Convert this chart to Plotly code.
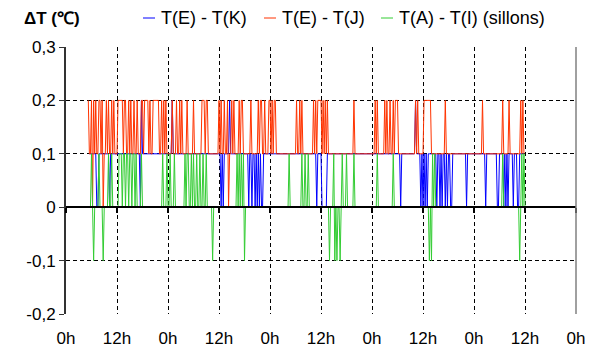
import numpy as np
import plotly.graph_objects as go

# ---------------- data (hours from first midnight) ----------------
x_tick_vals = list(range(0, 121, 12))
x_tick_text = ["0h", "12h", "0h", "12h", "0h", "12h", "0h", "12h", "0h", "12h", "0h"]
y_tick_vals = [-0.2, -0.1, 0.0, 0.1, 0.2, 0.3]
y_tick_text = ["-0,2", "-0,1", "0", "0,1", "0,2", "0,3"]

step_h = 0.25  # 15-min sampling

# T(E) - T(K)  (blue): baseline 0.1
blue_name = "T(E) - T(K)"
blue_span = [5.5, 107.75]
blue_base = 0.1
blue_low = [7.25, 7.5, 10.25, 17.5, 36.5, 37.0, 43.0, 43.75, 44.5, 45.0, 45.5, 46.0, 46.25,
            59.0, 60.25, 60.5, 60.75, 61.0, 61.25, 78.75, 83.5, 84.0, 84.5, 85.0, 87.25, 88.0,
            88.5, 89.25, 89.75, 90.5, 90.75, 94.25, 98.75, 101.5, 101.75, 103.0, 103.5, 104.0,
            105.25, 106.25, 106.5]
blue_high = [17.75, 25.0, 38.5, 82.25]

# T(E) - T(J)  (red): baseline 0.1
red_name = "T(E) - T(J)"
red_span = [5.25, 107.75]
red_base = 0.1
red_high = [5.25, 6.0, 6.5, 7.0, 7.75, 8.0, 8.5, 9.5, 10.0, 10.75, 11.25, 12.25, 12.5, 12.75,
            13.0, 13.25, 13.75, 14.0, 14.75, 15.25, 16.0, 16.75, 17.75, 18.0, 18.5, 18.75, 19.0,
            19.25, 19.75, 20.5, 20.75, 21.0, 21.25, 21.5, 21.75, 22.5, 23.0, 23.5, 25.0, 26.0,
            26.75, 27.25, 28.5, 30.0, 32.0, 32.25, 32.5, 33.0, 33.25, 36.0, 36.5, 37.25, 38.0,
            39.0, 39.5, 40.75, 41.25, 41.5, 43.5, 45.25, 45.75, 46.0, 46.75, 47.75, 48.0, 48.5,
            49.0, 49.25, 54.25, 55.0, 55.5, 58.25, 58.75, 59.25, 59.5, 59.75, 60.0, 60.5, 61.0,
            61.5, 67.75, 72.75, 73.25, 75.0, 75.5, 76.25, 77.0, 77.5, 77.75, 78.0, 82.25, 82.75,
            84.25, 84.5, 84.75, 85.0, 85.25, 85.5, 85.75, 89.25, 98.0, 102.75, 104.25, 107.0,
            107.5]
red_low = [6.25, 8.75, 38.25]

# T(A) - T(I) (sillons)  (green): baseline 0
green_name = "T(A) - T(I) (sillons)"
green_span = [5.25, 108.0]
green_base = 0.0
green_high = [6.0, 7.75, 10.0, 10.75, 12.5, 12.75, 13.0, 13.5, 13.75, 14.25, 14.5, 15.0, 15.25,
              15.75, 16.0, 16.5, 17.75, 22.75, 23.75, 24.5, 25.5, 28.0, 28.5, 28.75, 29.5, 30.0,
              30.75, 31.5, 32.25, 33.0, 40.25, 40.75, 41.25, 41.75, 52.5, 55.5, 56.25, 57.0,
              63.0, 65.0, 66.0, 67.75, 73.25, 77.0, 86.25, 86.75, 102.75, 107.25, 107.75]
green_low = [6.5, 8.75, 34.5, 42.0, 62.0, 63.25, 63.75, 64.5, 85.5, 86.0, 106.75]

# ---------------- styles ----------------
BLUE = "#0000FF"
RED = "#FF3300"
GREEN = "#33CC33"
FONT = "Arial, Liberation Sans, sans-serif"
FS = 17
FS_LEG = 18


def build(span, base, high, low, hi_val, lo_val):
    t = np.arange(span[0], span[1] + 1e-9, step_h)
    v = np.full(t.shape, base, dtype=float)
    idx = {round(tt / step_h): i for i, tt in enumerate(t)}
    for h in high:
        i = idx.get(round(h / step_h))
        if i is not None:
            v[i] = hi_val
    for h in low:
        i = idx.get(round(h / step_h))
        if i is not None:
            v[i] = lo_val
    return t, v


bt, bv = build(blue_span, blue_base, blue_high, blue_low, 0.2, 0.0)
rt, rv = build(red_span, red_base, red_high, red_low, 0.2, 0.0)
gt, gv = build(green_span, green_base, green_high, green_low, 0.1, -0.1)

fig = go.Figure()
fig.add_trace(go.Scatter(x=bt, y=bv, mode="lines", name=blue_name,
                         line=dict(color=BLUE, width=1), showlegend=False, hoverinfo="skip"))
fig.add_trace(go.Scatter(x=rt, y=rv, mode="lines", name=red_name,
                         line=dict(color=RED, width=1), showlegend=False, hoverinfo="skip"))
fig.add_trace(go.Scatter(x=gt, y=gv, mode="lines", name=green_name,
                         line=dict(color=GREEN, width=1), showlegend=False, hoverinfo="skip"))
# carrier for the zero axis (ticks on the 0 line)
fig.add_trace(go.Scatter(x=[None], y=[None], xaxis="x2", showlegend=False, hoverinfo="skip"))

OFF = 8  # page body margin of the browser
L, R, T, B = 66 - OFF, 19, 47 - OFF, 38
W, H = 595 - OFF, 352 - OFF
pw, ph = W - L - R, H - T - B

fig.update_layout(
    template="none",
    width=W, height=H,
    margin=dict(l=L, r=R, t=T, b=B, pad=0, autoexpand=False),
    paper_bgcolor="white", plot_bgcolor="white",
    font=dict(family=FONT, size=FS, color="black"),
    xaxis=dict(range=[0, 120], tickvals=x_tick_vals, ticktext=x_tick_text, automargin=False,
               showgrid=True, gridcolor="black", gridwidth=1, griddash="4px,3px",
               zeroline=False, showline=False, ticks="", ticklabelstandoff=12,
               tickfont=dict(size=FS)),
    xaxis2=dict(range=[0, 120], overlaying="x", anchor="free", position=0.4, automargin=False,
                tickvals=x_tick_vals, showticklabels=False, showgrid=False,
                zeroline=False, showline=True, linecolor="black", linewidth=2,
                ticks="outside", ticklen=5, tickwidth=1.5, tickcolor="black"),
    yaxis=dict(range=[-0.2, 0.3], tickvals=y_tick_vals, ticktext=y_tick_text, automargin=False,
               showgrid=True, gridcolor="black", gridwidth=1, griddash="4px,3px",
               zeroline=False, showline=True, linecolor="#333333", linewidth=2,
               ticks="outside", ticklen=5, tickcolor="#333333", tickfont=dict(size=FS)),
)


def px_x(px):
    return (px - OFF - L) / pw


def px_y(py):
    return (H - B - (py - OFF)) / ph


shapes = [dict(type="line", xref="paper", yref="paper", x0=1, x1=1, y0=0, y1=1,
               line=dict(color="#808080", width=1.5))]
legend_items = [(blue_name, BLUE, 143), (red_name, RED, 264), (green_name, GREEN, 381)]
ann = [dict(text="<b>ΔT (℃)</b>", x=px_x(22), y=px_y(19), xanchor="left", yanchor="middle",
            font=dict(size=FS))]
for name, col, x0 in legend_items:
    shapes.append(dict(type="line", xref="paper", yref="paper", x0=px_x(x0), x1=px_x(x0 + 12),
                       y0=px_y(18), y1=px_y(18), line=dict(color=col, width=1)))
    ann.append(dict(text=name, x=px_x(x0 + 16), y=px_y(18), xanchor="left", yanchor="middle",
                    font=dict(size=FS_LEG)))
for a in ann:
    a.update(xref="paper", yref="paper", showarrow=False)
fig.update_layout(annotations=ann, shapes=shapes)

fig.write_html("out.html")
